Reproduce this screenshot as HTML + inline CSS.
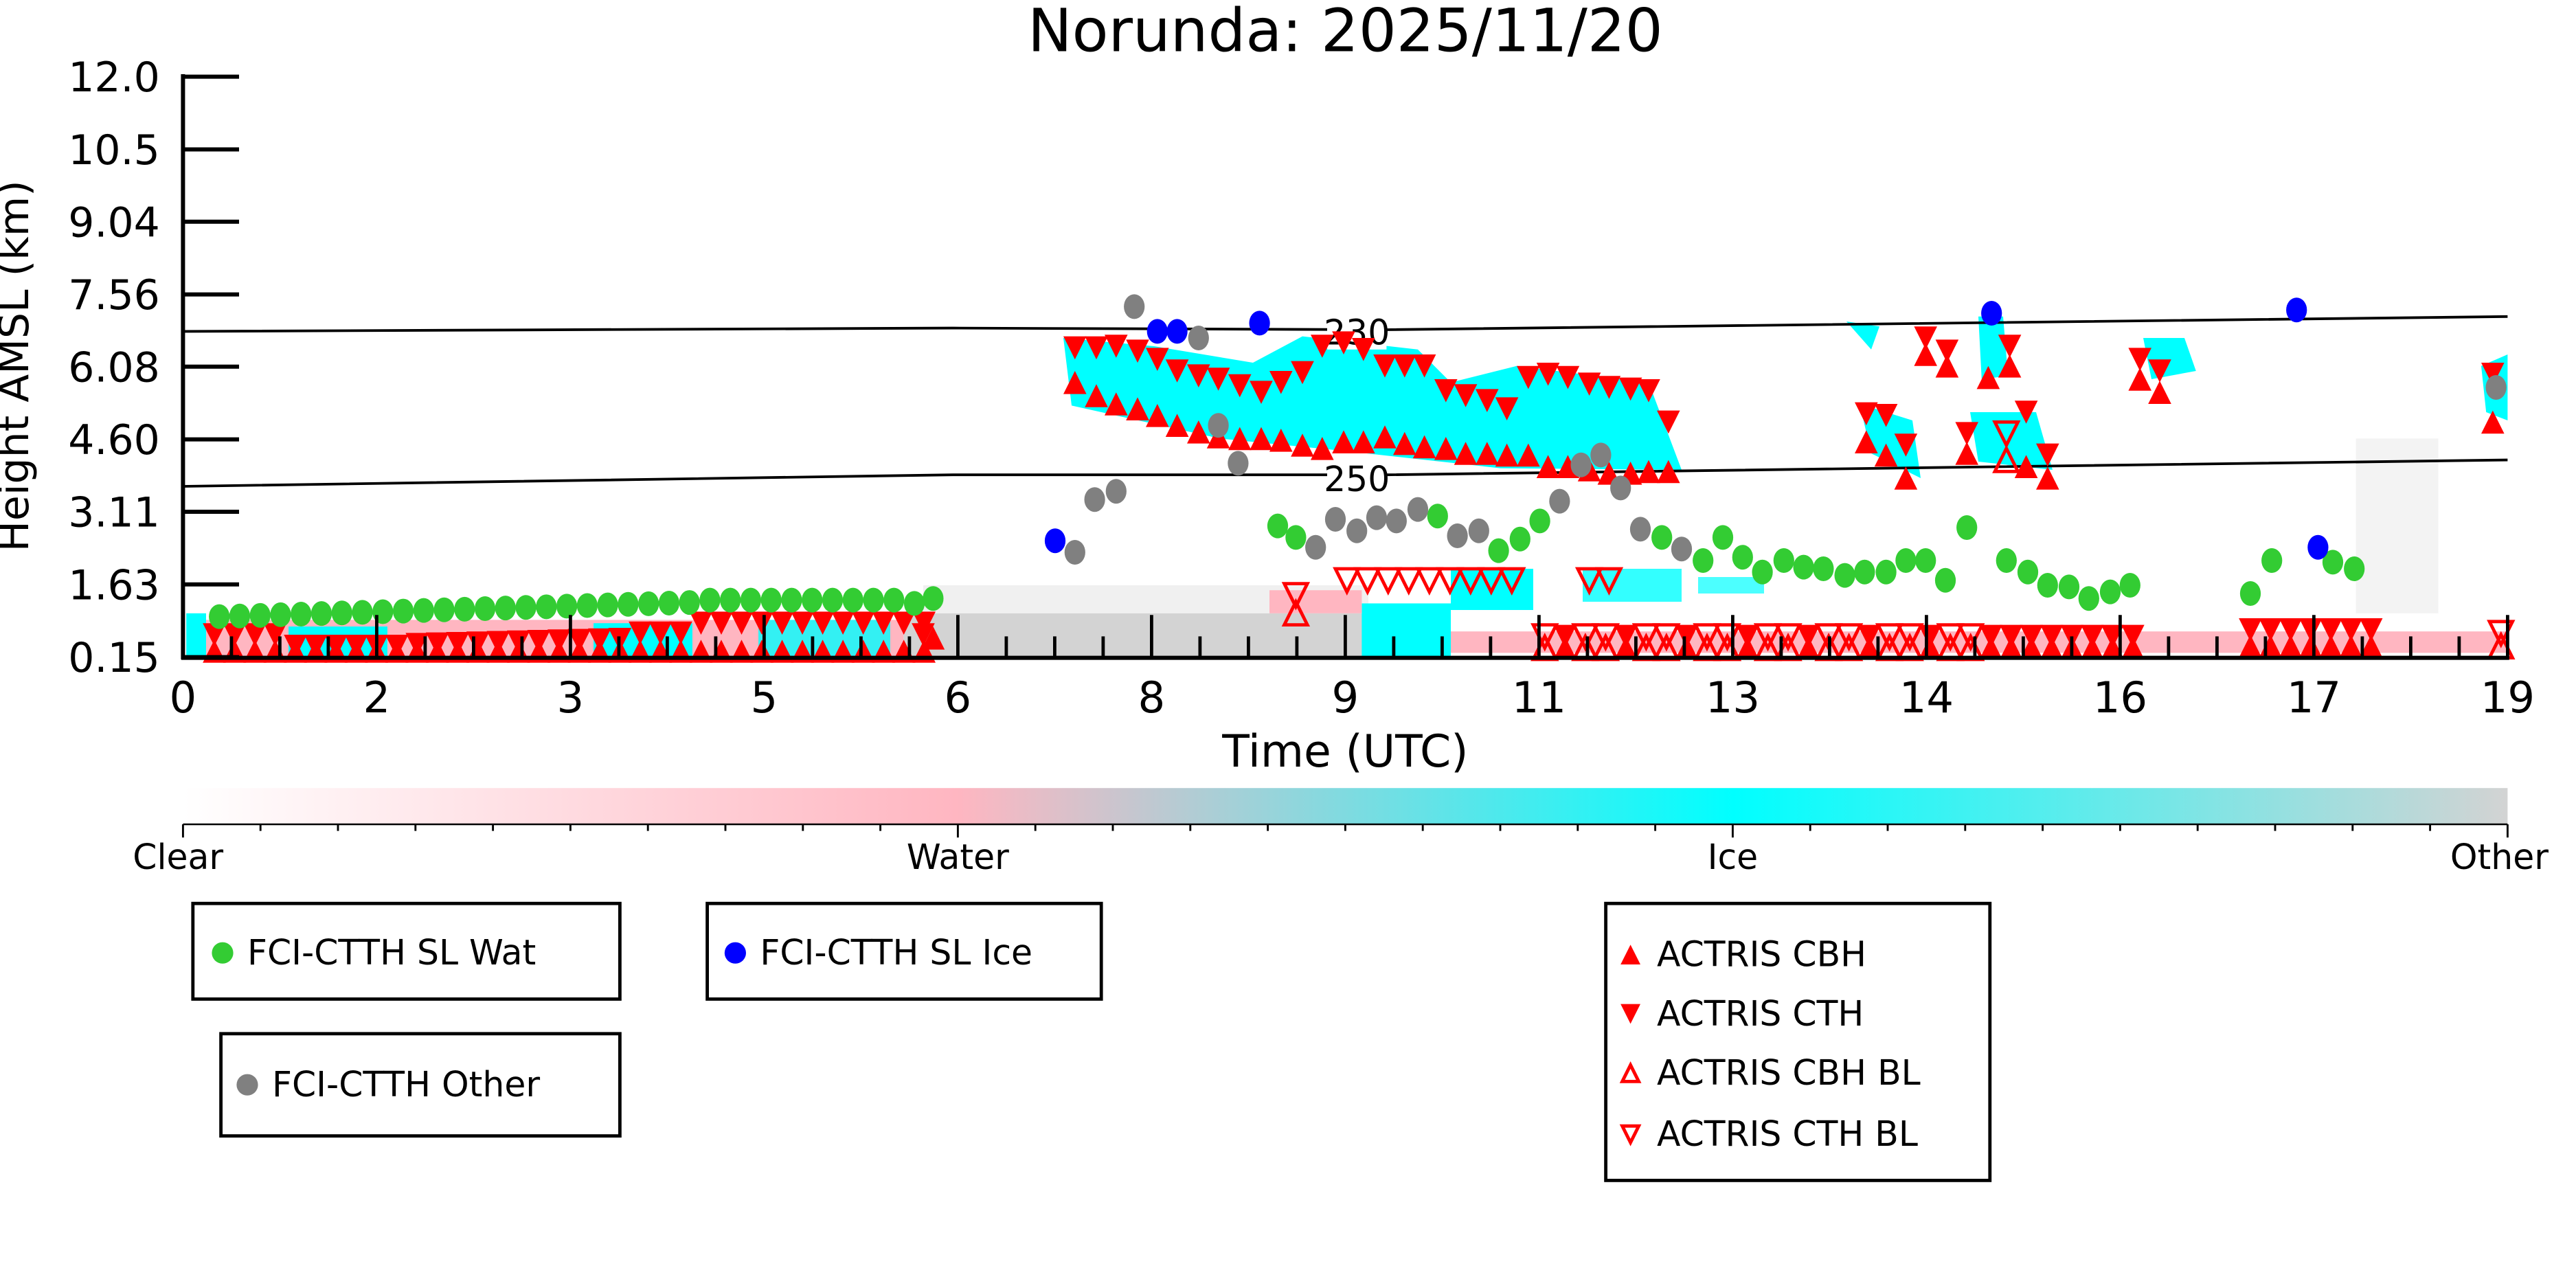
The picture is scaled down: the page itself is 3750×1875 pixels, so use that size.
<!DOCTYPE html>
<html><head><meta charset="utf-8"><style>html,body{margin:0;padding:0;background:#fff;overflow:hidden}svg{display:block}text{font-family:"DejaVu Sans","Liberation Sans",sans-serif}</style></head><body>
<svg id="s" width="3750" height="1875" viewBox="0 0 1562.5 781.25" preserveAspectRatio="none" xmlns="http://www.w3.org/2000/svg">
<defs>
<linearGradient id="cb" x1="0" x2="1" y1="0" y2="0">
<stop offset="0" stop-color="#ffffff"/><stop offset="0.333" stop-color="#ffb6c1"/><stop offset="0.667" stop-color="#00ffff"/><stop offset="1" stop-color="#d3d3d3"/>
</linearGradient>
</defs>
<text x="816" y="31" font-size="36" text-anchor="middle">Norunda: 2025/11/20</text>
<g id="bg">
<rect x="548" y="372" width="282" height="27" fill="#d3d3d3"/>
<rect x="560" y="355" width="270" height="17" fill="#e6e6e6" opacity="0.6"/>
<rect x="113" y="376" width="435" height="23" fill="#ffb6c1"/>
<rect x="113" y="372" width="12" height="27" fill="#00ffff"/>
<rect x="175" y="380" width="60" height="19" fill="#00ffff"/>
<rect x="360" y="378" width="60" height="21" fill="#00ffff"/>
<rect x="460" y="376" width="80" height="23" fill="#00ffff" opacity="0.8"/>
<rect x="786" y="383" width="40" height="14" fill="#d3d3d3"/>
<rect x="826" y="366" width="54" height="32" fill="#00ffff"/>
<rect x="880" y="383" width="641" height="13" fill="#ffb6c1"/>
<rect x="880" y="345" width="50" height="25" fill="#00ffff"/>
<rect x="770" y="358" width="56" height="14" fill="#ffb6c1"/>
<rect x="960" y="345" width="60" height="20" fill="#00ffff" opacity="0.8"/>
<rect x="1030" y="350" width="40" height="10" fill="#00ffff" opacity="0.7"/>
<rect x="1429" y="266" width="50" height="106" fill="#e8e8e8" opacity="0.5"/>
<polygon fill="#00ffff" points="645,205 700,210 760,220 790,204 860,212 880,232 920,222 1000,232 1020,285 910,284 820,274 740,266 650,246"/>
<polygon fill="#00ffff" points="1128,245 1160,255 1165,290 1135,275"/>
<polygon fill="#00ffff" points="1195,250 1235,250 1245,285 1200,280"/>
<polygon fill="#00ffff" points="1200,192 1215,192 1218,228 1202,230"/>
<polygon fill="#00ffff" points="1300,205 1325,205 1332,225 1305,230"/>
<polygon fill="#00ffff" points="1505,222 1521,215 1521,255 1508,250"/>
<polygon fill="#00ffff" points="1120,195 1140,198 1135,212"/>
</g>
<polyline fill="none" stroke="#000" stroke-width="1.6" points="111,201 578,199 841,200 1521,192"/>
<polyline fill="none" stroke="#000" stroke-width="1.6" points="111,295 578,288 841,288 1521,279"/>
<rect x="805" y="190" width="36" height="22" fill="#fff"/>
<text x="823" y="209" font-size="21" text-anchor="middle">230</text>
<rect x="805" y="278" width="36" height="22" fill="#fff"/>
<text x="823" y="298" font-size="21" text-anchor="middle">250</text>
<g id="marks"></g>
<g stroke="#000" stroke-width="2.5" fill="none">
<line x1="111" y1="45" x2="111" y2="400"/>
<line x1="110" y1="399" x2="1522" y2="399"/>
</g>
<g id="ax"></g>
<text x="816" y="465" font-size="27" text-anchor="middle">Time (UTC)</text>
<text transform="translate(17,222) rotate(-90)" font-size="25" text-anchor="middle">Height AMSL (km)</text>
<rect x="111" y="478" width="1410" height="22" fill="url(#cb)"/>
<line x1="111" y1="500" x2="1521" y2="500" stroke="#000" stroke-width="1"/>
<g id="cbt"></g>
<text x="108" y="527" font-size="21" text-anchor="middle">Clear</text>
<text x="581" y="527" font-size="21" text-anchor="middle">Water</text>
<text x="1051" y="527" font-size="21" text-anchor="middle">Ice</text>
<text x="1516" y="527" font-size="21" text-anchor="middle">Other</text>
<g stroke="#000" stroke-width="2" fill="none">
<rect x="117" y="548" width="259" height="58"/>
<rect x="429" y="548" width="239" height="58"/>
<rect x="134" y="627" width="242" height="62"/>
<rect x="974" y="548" width="233" height="168"/>
</g>
<circle cx="135" cy="578" r="6.5" fill="#33cc33"/><text x="150" y="585" font-size="21">FCI-CTTH SL Wat</text>
<circle cx="446" cy="578" r="6.5" fill="#0000ff"/><text x="461" y="585" font-size="21">FCI-CTTH SL Ice</text>
<circle cx="150" cy="658" r="6.5" fill="#808080"/><text x="165" y="665" font-size="21">FCI-CTTH Other</text>
<polygon points="983,585 995,585 989,573" fill="#f00"/><text x="1005" y="586" font-size="21">ACTRIS CBH</text>
<polygon points="983,609 995,609 989,621" fill="#f00"/><text x="1005" y="622" font-size="21">ACTRIS CTH</text>
<polygon points="984,656 994,656 989,646" fill="none" stroke="#f00" stroke-width="2"/><text x="1005" y="658" font-size="21">ACTRIS CBH BL</text>
<polygon points="984,683 994,683 989,693" fill="none" stroke="#f00" stroke-width="2"/><text x="1005" y="695" font-size="21">ACTRIS CTH BL</text>
<script>
(function(){
var NS="http://www.w3.org/2000/svg";
function el(p,t,a){var e=document.createElementNS(NS,t);for(var k in a)e.setAttribute(k,a[k]);document.getElementById(p).appendChild(e);return e;}
function C(x,y,c){el("marks","ellipse",{cx:x,cy:y,rx:6.3,ry:7.5,fill:c});}
function D(x,y,o){var a={points:(x-7)+","+(y-7)+" "+(x+7)+","+(y-7)+" "+x+","+(y+7)};if(o){a.fill="none";a.stroke="#f00";a["stroke-width"]=2;}else a.fill="#f00";el("marks","polygon",a);}
function U(x,y,o){var a={points:(x-7)+","+(y+7)+" "+(x+7)+","+(y+7)+" "+x+","+(y-7)};if(o){a.fill="none";a.stroke="#f00";a["stroke-width"]=2;}else a.fill="#f00";el("marks","polygon",a);}
var i,x,y;
for(i=0;i<36;i++){x=130+i*12.3;y=x<170?385:(x<250?392:(x<380?391-(x-250)/40:(x<420?384:378)));D(x,y);U(x,395);}
D(560,385);U(566,387);
for(i=0;i<30;i++){x=937+i*12.3;var o=(i%3!=1);D(x,386,o&&i<22);U(x,393,o&&i<22);}
for(i=0;i<7;i++){x=1365+i*12.2;D(x,382);U(x,392);}
D(1517,384,true);U(1517,392,true);
for(i=0;i<9;i++){x=817+i*12.5;D(x,352,true);}
D(964,352,true);D(976,352,true);D(786,361,true);U(786,372,true);
var tops=[[652,211],[665,211],[677,210],[690,213],[702,218],[714,225],[727,228],[739,230],[752,234],[765,238],[777,232],[790,226],[802,210],[815,208],[827,212],[840,222],[852,222],[864,222],[877,237],[889,240],[902,243],[914,248],[927,229],[939,227],[951,229],[964,233],[976,235],[989,236],[1000,237],[1012,256]];
var bots=[[652,232],[665,240],[677,245],[690,248],[702,252],[714,258],[727,262],[739,265],[752,266],[765,266],[777,267],[790,270],[802,272],[815,268],[827,268],[840,265],[852,269],[864,271],[877,272],[889,275],[902,275],[914,276],[927,276],[939,283],[951,283],[964,285],[976,287],[989,287],[1000,286],[1012,286]];
tops.forEach(function(p){D(p[0],p[1]);});bots.forEach(function(p){U(p[0],p[1]);});
[[1168,205],[1181,213],[1219,210],[1298,218],[1310,225],[1132,251],[1144,252],[1156,270],[1193,263],[1229,250],[1242,276],[1512,227]].forEach(function(p){D(p[0],p[1]);});
[[1168,215],[1181,222],[1219,222],[1206,229],[1298,230],[1310,238],[1132,268],[1144,276],[1156,290],[1193,275],[1229,283],[1242,290],[1512,256]].forEach(function(p){U(p[0],p[1]);});
D(1217,263,true);U(1217,279,true);
for(i=0;i<35;i++){x=133+i*12.4;var gy=x<430?374-(x-133)*0.03:(x<545?364:366);C(x,gy,"#33cc33");}
C(566,363,"#33cc33");
[[775,319],[786,326],[872,313],[909,334],[922,327],[934,316],[1008,326],[1033,340],[1045,326],[1057,338],[1069,347],[1082,340],[1094,344],[1106,345],[1119,349],[1131,347],[1144,347],[1156,340],[1168,340],[1180,352],[1193,320],[1217,340],[1230,347],[1242,355],[1255,356],[1267,363],[1280,359],[1292,355],[1365,360],[1378,340],[1415,341],[1428,345]].forEach(function(p){C(p[0],p[1],"#33cc33");});
[[688,186],[727,205],[739,258],[751,281],[664,303],[677,298],[652,335],[798,332],[810,315],[823,322],[835,314],[847,316],[860,309],[884,325],[897,322],[946,304],[959,282],[971,276],[983,296],[995,321],[1020,333],[1514,235]].forEach(function(p){C(p[0],p[1],"#808080");});
[[640,328],[702,201],[714,201],[764,196],[1208,190],[1393,188],[1406,332]].forEach(function(p){C(p[0],p[1],"#0000ff");});
var yt=[["12.0",46.5],["10.5",90.6],["9.04",134.5],["7.56",178.6],["6.08",222.4],["4.60",266.5],["3.11",310.4],["1.63",354.5],["0.15",398.6]];
yt.forEach(function(t){el("ax","line",{x1:111,x2:145,y1:t[1],y2:t[1],stroke:"#000","stroke-width":2.5});var e=el("ax","text",{x:97,y:t[1]+9,"font-size":25,"text-anchor":"end"});e.textContent=t[0];});
var xl=["0","2","3","5","6","8","9","11","13","14","16","17","19"];
for(i=0;i<=48;i++){x=111+i*29.375;var big=(i%4==0);el("ax","line",{x1:x,x2:x,y1:399,y2:big?373:386,stroke:"#000","stroke-width":2});if(big){var e=el("ax","text",{x:x,y:432,"font-size":26,"text-anchor":"middle"});e.textContent=xl[i/4];}}
for(i=0;i<=30;i++){x=111+i*47;el("cbt","line",{x1:x,x2:x,y1:500,y2:(i%10==0)?508:504,stroke:"#000","stroke-width":1.2});}
})();
</script>
</svg>
</body></html>
